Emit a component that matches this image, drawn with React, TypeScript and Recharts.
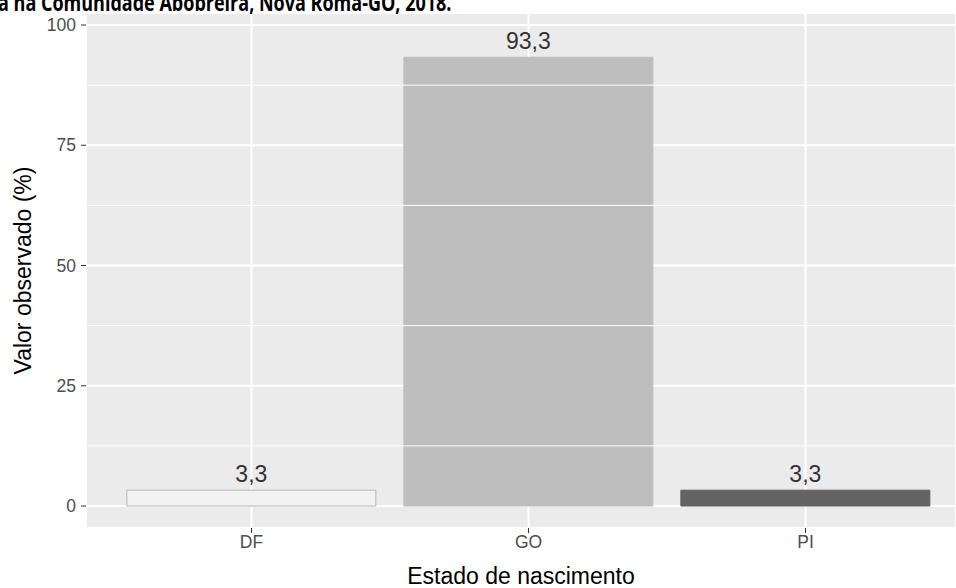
import React from "react";
import {
  BarChart,
  Bar,
  XAxis,
  YAxis,
  CartesianGrid,
  Cell,
  LabelList,
  ReferenceLine,
} from "recharts";

const estados = ["DF", "GO", "PI"];
const percentuais = [3.3, 93.3, 3.3];
const preenchimentos = ["#F2F2F2", "#BEBEBE", "#636363"];
const contornos = ["#B5B5B5", "#BEBEBE", "#636363"];
const yTicks = [0, 25, 50, 75, 100];
const yMinor = [12.5, 37.5, 62.5, 87.5];

const data = estados.map((estado, i) => ({ estado, valor: percentuais[i] }));

const fonte = "'Liberation Sans', Arial, sans-serif";

export default function App() {
  return (
    <div
      style={{
        position: "absolute",
        left: 0,
        top: 0,
        width: 956,
        height: 588,
        overflow: "hidden",
        background: "#fff",
      }}
    >
      {/* legenda da figura, cortada no topo como no original */}
      <div
        style={{
          position: "absolute",
          left: -2,
          top: -9.4,
          fontFamily: "'Open Sans', sans-serif",
          fontWeight: 700,
          fontSize: 23,
          lineHeight: 1,
          whiteSpace: "nowrap",
          color: "#000",
          transform: "scaleX(0.783)",
          transformOrigin: "left top",
          zIndex: 2,
        }}
      >
        a na Comunidade Abobreira, Nova Roma-GO, 2018.
      </div>
      <BarChart
        width={956}
        height={588}
        data={data}
        margin={{ top: 13, right: 0, bottom: 0, left: 0 }}
        barCategoryGap="5%"
      >
        <CartesianGrid fill="#EBEBEB" stroke="#FFFFFF" strokeWidth={2} />
        {yMinor.map((v) => (
          <ReferenceLine key={v} y={v} stroke="#FFFFFF" strokeWidth={1} />
        ))}
        <XAxis
          dataKey="estado"
          padding={{ left: 27, right: 12 }}
          axisLine={false}
          tickLine={{ stroke: "#333333" }}
          tickSize={5}
          tickMargin={3}
          tick={{ fill: "#4D4D4D", fontSize: 17.5, fontFamily: fonte }}
          height={60}
          label={{
            value: "Estado de nascimento",
            position: "insideBottom",
            offset: 4,
            fill: "#000",
            fontSize: 23,
            fontFamily: fonte,
          }}
        />
        <YAxis
          type="number"
          domain={[-4.57, 102.5]}
          ticks={yTicks}
          allowDataOverflow
          axisLine={false}
          tickLine={{ stroke: "#333333" }}
          tickSize={5}
          tickMargin={5}
          width={86}
          tick={{ fill: "#4D4D4D", fontSize: 17.5, fontFamily: fonte }}
          label={{
            value: "Valor observado (%)",
            angle: -90,
            position: "insideLeft",
            offset: 23,
            style: { textAnchor: "middle" },
            fill: "#000",
            fontSize: 23,
            fontFamily: fonte,
          }}
        />
        <Bar dataKey="valor" isAnimationActive={false}>
          {data.map((d, i) => (
            <Cell key={d.estado} fill={preenchimentos[i]} stroke={contornos[i]} />
          ))}
          <LabelList
            dataKey="valor"
            position="top"
            offset={8}
            fill="#333333"
            fontSize={23}
            fontFamily={fonte}
            formatter={(v: any) => String(v).replace(".", ",")}
          />
        </Bar>
      </BarChart>
    </div>
  );
}
